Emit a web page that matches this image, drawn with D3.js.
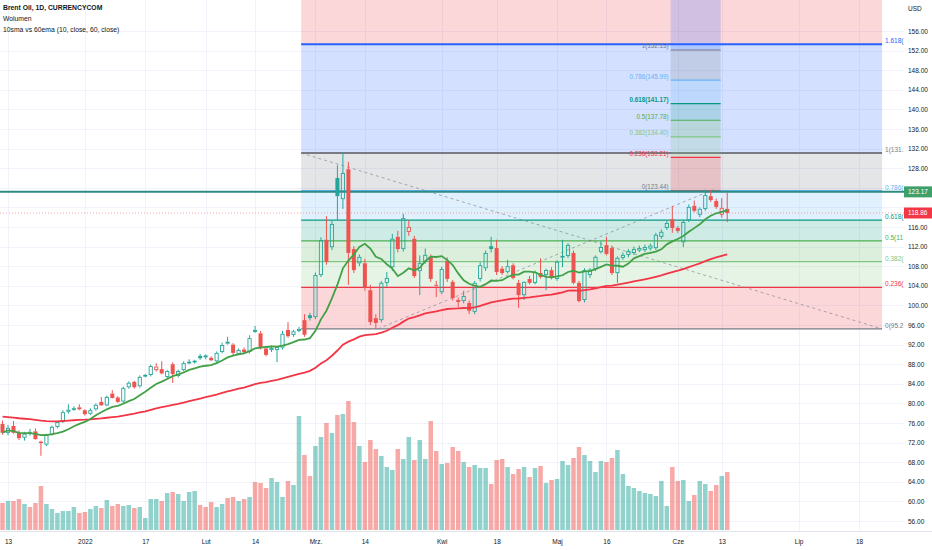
<!DOCTYPE html>
<html>
<head>
<meta charset="utf-8">
<script src="https://d3js.org/d3.v7.min.js"></script>
<style>
  body { margin: 0; background: #fff; }
  svg text { font-family: "Liberation Sans", Arial, sans-serif; }
</style>
</head>
<body>
<div id="chart-area"></div>
<script>
// Brent Oil, 1D, daily bars from 10 Dec 2021 to 14 Jun 2022 (bar index 0..132)
const opens = [
  75.8, 74.0, 75.4, 74.0, 73.0, 74.2, 74.3, 72.2, 71.6, 73.6,
  75.2, 76.2, 78.3, 78.7, 79.2, 78.6, 77.9, 78.8, 80.3, 79.6,
  82.0, 81.2, 80.4, 83.3, 84.4, 83.5, 85.5, 85.8, 86.8, 87.0,
  85.4, 88.0, 85.6, 86.8, 88.3, 88.4, 89.7, 89.8, 89.3, 88.6,
  90.5, 92.6, 92.0, 90.1, 91.0, 90.5, 95.0, 94.3, 91.2, 90.9,
  90.9, 91.4, 95.0, 94.0, 94.8, 97.0, 98.0, 97.6, 106.2, 113.4,
  111.9, 126.0, 121.7, 127.8, 111.5, 108.6, 108.6, 103.1, 97.4, 97.0,
  104.6, 107.8, 114.0, 111.5, 115.0, 113.6, 107.0, 108.9, 109.9, 104.2,
  102.7, 109.1, 104.8, 101.1, 100.9, 100.5, 98.7, 105.4, 107.6, 112.1,
  111.7, 107.5, 106.8, 108.2, 104.6, 102.1, 105.4, 104.6, 106.6, 106.2,
  107.2, 105.4, 109.8, 110.1, 110.7, 104.6, 101.1, 106.2, 107.4, 110.9,
  112.3, 111.7, 106.6, 109.7, 110.3, 110.7, 111.2, 111.3, 111.6, 111.7,
  114.0, 115.8, 117.6, 115.8, 112.9, 117.4, 120.3, 118.5, 119.7, 122.3,
  121.3, 118.5, 119.7
];
const highs = [
  76.5, 75.6, 76.4, 74.5, 74.2, 74.8, 74.9, 72.4, 73.8, 75.5,
  76.4, 78.6, 79.8, 79.4, 79.8, 78.8, 79.0, 80.0, 81.3, 81.6,
  82.7, 81.5, 83.4, 84.5, 84.6, 85.7, 86.0, 87.9, 88.2, 88.6,
  86.8, 88.4, 86.9, 88.6, 89.0, 88.9, 90.1, 90.0, 89.6, 90.6,
  92.4, 93.6, 92.3, 91.2, 91.4, 93.9, 95.8, 94.8, 91.5, 91.8,
  91.6, 94.8, 96.6, 95.0, 95.6, 98.2, 98.5, 106.7, 113.9, 118.2,
  117.2, 128.6, 131.1, 129.3, 112.1, 110.4, 109.5, 104.2, 98.2, 105.0,
  106.8, 114.6, 115.2, 118.7, 117.4, 114.2, 110.2, 111.6, 110.4, 105.0,
  107.9, 109.8, 105.2, 101.6, 103.0, 101.0, 105.0, 108.8, 111.2, 114.0,
  113.4, 108.0, 109.3, 108.6, 105.2, 104.9, 106.0, 107.1, 109.6, 107.5,
  107.8, 109.2, 113.4, 112.7, 111.2, 105.0, 107.6, 107.6, 110.2, 113.1,
  114.0, 112.2, 110.0, 110.8, 111.5, 112.0, 112.2, 112.4, 112.6, 114.8,
  115.5, 117.3, 120.3, 116.2, 117.4, 120.6, 121.4, 120.0, 123.6, 123.5,
  121.8, 121.9, 123.0
];
const lows = [
  73.6, 73.5, 73.8, 72.5, 72.4, 73.4, 72.6, 69.3, 71.3, 73.4,
  74.9, 76.0, 77.9, 78.5, 78.6, 77.5, 77.6, 78.5, 79.5, 79.4,
  81.0, 80.1, 80.0, 83.0, 83.0, 83.2, 85.3, 85.5, 86.5, 85.9,
  85.1, 84.2, 85.3, 86.5, 88.0, 88.1, 88.9, 89.0, 88.6, 88.3,
  90.2, 92.0, 89.9, 89.9, 90.1, 90.2, 94.4, 91.0, 89.6, 90.5,
  88.4, 91.0, 93.4, 93.6, 94.5, 93.6, 96.9, 97.2, 105.8, 108.3,
  111.3, 117.4, 119.7, 104.2, 106.6, 108.0, 103.0, 96.0, 95.21, 96.5,
  103.8, 107.0, 110.8, 111.0, 114.2, 105.6, 102.1, 108.5, 104.8, 101.7,
  102.3, 104.8, 101.0, 99.6, 100.4, 98.2, 98.2, 104.9, 107.0, 110.8,
  106.2, 106.2, 106.5, 105.3, 99.5, 101.1, 104.3, 104.3, 105.5, 103.1,
  105.3, 105.0, 107.8, 109.7, 104.3, 100.6, 100.6, 105.6, 107.0, 110.6,
  110.2, 106.2, 104.6, 109.3, 109.8, 110.3, 110.9, 110.9, 111.2, 111.3,
  113.6, 115.4, 114.8, 114.8, 111.9, 117.0, 119.0, 118.0, 119.3, 121.1,
  119.7, 117.9, 117.0
];
const closes = [
  74.0, 75.0, 74.0, 72.9, 73.8, 74.0, 72.7, 71.9, 73.6, 75.2,
  76.2, 78.2, 78.7, 79.0, 78.8, 77.8, 78.6, 79.7, 79.6, 81.3,
  81.1, 80.3, 83.1, 84.2, 83.3, 85.4, 85.8, 87.6, 87.5, 86.1,
  86.6, 86.0, 86.6, 88.2, 88.5, 88.7, 89.2, 89.4, 88.8, 90.3,
  91.9, 92.2, 90.3, 90.9, 90.4, 93.3, 94.6, 91.3, 89.9, 91.3,
  91.5, 94.2, 93.7, 94.7, 95.2, 94.0, 97.4, 106.2, 113.3, 108.9,
  116.6, 122.3, 127.0, 110.7, 107.2, 109.9, 103.6, 96.6, 96.4, 104.6,
  105.6, 113.6, 111.5, 117.8, 116.0, 106.0, 108.6, 110.3, 105.4, 104.0,
  107.4, 105.4, 101.5, 100.7, 101.9, 98.9, 104.6, 108.2, 110.7, 111.5,
  106.8, 106.6, 108.0, 105.6, 102.1, 104.8, 104.6, 106.8, 105.8, 107.2,
  105.6, 108.9, 110.1, 112.3, 104.6, 100.9, 107.2, 107.3, 109.9, 111.9,
  110.5, 106.6, 109.7, 110.3, 111.1, 111.5, 111.7, 111.9, 112.2, 114.4,
  115.0, 116.8, 115.8, 115.2, 117.0, 120.1, 119.3, 119.7, 122.5, 121.5,
  120.1, 119.9, 118.86
];
// Wolumen (thousands)
const volumes = [
  27, 29, 29, 31, 26, 23, 27, 44, 26, 21,
  17, 19, 19, 23, 17, 18, 21, 24, 22, 30,
  24, 26, 24, 25, 22, 23, 12, 31, 31, 29,
  37, 38, 36, 29, 38, 39, 25, 23, 28, 23,
  26, 32, 33, 29, 31, 33, 48, 47, 42, 52,
  48, 33, 49, 45, 114, 75, 54, 84, 93, 107,
  97, 115, 116, 129, 108, 84, 68, 90, 81, 74,
  63, 60, 81, 71, 93, 70, 90, 71, 109, 79,
  66, 67, 83, 79, 68, 63, 65, 62, 62, 46,
  70, 71, 63, 56, 61, 63, 53, 62, 64, 47,
  50, 51, 69, 65, 72, 83, 75, 69, 58, 69,
  68, 72, 80, 56, 44, 42, 39, 37, 36, 34,
  49, 24, 63, 49, 50, 29, 35, 49, 46, 39,
  45, 54, 58
];

const tickIdx = [1, 15, 26, 37, 46, 57, 66, 80, 90, 101, 110, 123, 131, 145, 156];
const tickText = ['13', '2022', '17', 'Lut', '14', 'Mrz.', '14', 'Kwi', '18', 'Maj', '16', 'Cze', '13', 'Lip', '18'];
const priceTicks = [56, 60, 64, 68, 72, 76, 80, 84, 88, 92, 96, 100, 104, 108, 112, 116, 120, 124, 128, 132, 136, 140, 144, 148, 152, 156];

const ema60Start = 77.4;   // 60ema value at the left edge
const hLinePrice = 123.17;

// fib retracement drawn from 131.1 down to 95.21
const fibLevels = [0, 0.236, 0.382, 0.5, 0.618, 0.786, 1, 1.618, 2.618];
const fibLow = 95.21, fibHigh = 131.1;
const fibFrom = 54.4, fibTo = 160.2;
// trend based fib extension
const extLevels = [0, 0.236, 0.382, 0.5, 0.618, 0.786, 1, 1.618];
const extBase = 123.44, extRange = 28.69;
const extFrom = 121.7, extTo = 130.8;
const extTrend = [[68.4, 95.21], [129.4, 123.6]];

const levelColors = ['#787b86', '#f23645', '#81c784', '#4caf50', '#089981', '#64b5f6', '#787b86', '#2962ff', '#f23645'];

window.addEventListener('DOMContentLoaded', () => {

    const W = 932, H = 550;
    const paneW = 904, paneH = 531;
    const up = '#26a69a', down = '#ef5350';

    const x = d3.scaleLinear().domain([0, 156]).range([2.5, 859]);
    const y = d3.scaleLinear().domain([54.16, 162.33]).range([530, 0]);
    const yVol = d3.scaleLinear().domain([0, 129]).range([530, 401]);

    const svg = d3.select('#chart-area')
        .append('svg')
        .attr('width', W)
        .attr('height', H);

    svg.append('defs').append('clipPath')
        .attr('id', 'pane-clip')
        .append('rect')
        .attr('width', paneW)
        .attr('height', paneH);

    const pane = svg.append('g').attr('clip-path', 'url(#pane-clip)');

    // grid
    pane.append('g').selectAll('line')
        .data(priceTicks)
        .join('line')
        .attr('x1', 0).attr('x2', paneW)
        .attr('y1', d => Math.round(y(d)) + 0.5).attr('y2', d => Math.round(y(d)) + 0.5)
        .attr('stroke', '#f0f3fa');
    pane.append('g').selectAll('line')
        .data(tickIdx)
        .join('line')
        .attr('x1', d => Math.round(x(d)) + 0.5).attr('x2', d => Math.round(x(d)) + 0.5)
        .attr('y1', 0).attr('y2', paneH)
        .attr('stroke', '#f0f3fa');

    // volume
    pane.append('g').selectAll('rect')
        .data(volumes)
        .join('rect')
        .attr('x', (d, i) => x(i) - 2.25)
        .attr('width', 4.5)
        .attr('y', d => yVol(d))
        .attr('height', d => yVol(0) - yVol(d))
        .attr('fill', (d, i) => closes[i] >= opens[i] ? up : down)
        .attr('opacity', 0.5);

    // fib retracement zones
    const fibPrice = l => fibLow + l * (fibHigh - fibLow);
    const fx0 = x(fibFrom), fx1 = x(fibTo);
    const fibG = pane.append('g');
    fibLevels.slice(1).forEach((l, k) => {
        const top = y(fibPrice(l)), bot = y(fibPrice(fibLevels[k]));
        fibG.append('rect')
            .attr('x', fx0).attr('width', fx1 - fx0)
            .attr('y', top).attr('height', bot - top)
            .attr('fill', levelColors[k + 1]).attr('opacity', 0.2);
    });
    fibLevels.forEach((l, k) => {
        const yy = y(fibPrice(l));
        fibG.append('line')
            .attr('x1', fx0).attr('x2', fx1)
            .attr('y1', yy).attr('y2', yy)
            .attr('stroke', levelColors[k])
            .attr('stroke-width', (l === 1 || l === 1.618) ? 2 : 1.3);
        if (yy < 10) return;
        // label runs into the price scale: keep only the part left of it
        const t = fibG.append('text')
            .attr('x', fx1 + 3).attr('y', yy - 1)
            .attr('font-size', 6.5)
            .attr('fill', levelColors[k]);
        let s = `${l}(${fibPrice(l).toFixed(2)})`;
        t.text(s);
        while (s.length && fx1 + 3 + t.node().getComputedTextLength() > paneW) {
            s = s.slice(0, -1);
            t.text(s);
        }
    });
    fibG.append('line')
        .attr('x1', fx0).attr('y1', y(fibHigh))
        .attr('x2', fx1).attr('y2', y(fibLow))
        .attr('stroke', '#787b86').attr('stroke-opacity', 0.6)
        .attr('stroke-dasharray', '3,3');

    // trend based fib extension
    const extPrice = l => extBase + l * extRange;
    const ex0 = x(extFrom), ex1 = x(extTo);
    const extG = pane.append('g');
    extLevels.slice(1).forEach((l, k) => {
        const top = y(extPrice(l)), bot = y(extPrice(extLevels[k]));
        extG.append('rect')
            .attr('x', ex0).attr('width', ex1 - ex0)
            .attr('y', top).attr('height', bot - top)
            .attr('fill', levelColors[k + 1]).attr('opacity', 0.2);
    });
    extLevels.forEach((l, k) => {
        const yy = y(extPrice(l));
        extG.append('line')
            .attr('x1', ex0).attr('x2', ex1)
            .attr('y1', yy).attr('y2', yy)
            .attr('stroke', levelColors[k])
            .attr('stroke-width', 1.2);
        if (l <= 1) {
            extG.append('text')
                .attr('x', ex0 - 2).attr('y', yy - 1.5)
                .attr('text-anchor', 'end')
                .attr('font-size', 6.3)
                .attr('font-weight', l === 0.618 ? 700 : 400)
                .attr('fill', levelColors[k])
                .text(`${l}(${extPrice(l).toFixed(2)})`);
        }
    });
    extG.append('line')
        .attr('x1', x(extTrend[0][0])).attr('y1', y(extTrend[0][1]))
        .attr('x2', x(extTrend[1][0])).attr('y2', y(extTrend[1][1]))
        .attr('stroke', '#787b86').attr('stroke-opacity', 0.6)
        .attr('stroke-dasharray', '3,3');

    // horizontal line + last price line
    pane.append('line')
        .attr('x1', 0).attr('x2', paneW)
        .attr('y1', y(hLinePrice)).attr('y2', y(hLinePrice))
        .attr('stroke', '#2e8a84').attr('stroke-width', 2);
    const last = closes[closes.length - 1];
    pane.append('line')
        .attr('x1', 0).attr('x2', paneW)
        .attr('y1', y(last)).attr('y2', y(last))
        .attr('stroke', down).attr('stroke-opacity', 0.5)
        .attr('stroke-dasharray', '1,2');

    // hollow candles
    const bars = closes.map((c, i) => ({
        i, o: opens[i], h: highs[i], l: lows[i], c,
        col: c >= (i ? closes[i - 1] : opens[i]) ? up : down,
        hollow: c > opens[i]
    }));
    const cg = pane.append('g');
    bars.forEach(b => {
        const cx = x(b.i);
        const top = y(Math.max(b.o, b.c)), bot = y(Math.min(b.o, b.c));
        cg.append('line')
            .attr('x1', cx).attr('x2', cx)
            .attr('y1', y(b.h)).attr('y2', top)
            .attr('stroke', b.col);
        cg.append('line')
            .attr('x1', cx).attr('x2', cx)
            .attr('y1', bot).attr('y2', y(b.l))
            .attr('stroke', b.col);
        if (b.hollow) {
            cg.append('rect')
                .attr('x', cx - 1.6).attr('width', 3.2)
                .attr('y', top + 0.4).attr('height', Math.max(0.8, bot - top - 0.8))
                .attr('fill', 'none').attr('stroke', b.col).attr('stroke-width', 0.9);
        } else {
            cg.append('rect')
                .attr('x', cx - 2).attr('width', 4)
                .attr('y', top).attr('height', Math.max(1, bot - top))
                .attr('fill', b.col);
        }
    });

    // 10sma vs 60ema
    const sma10 = closes.map((c, i) => d3.mean(closes.slice(Math.max(0, i - 9), i + 1)));
    let e = ema60Start;
    const ema60 = closes.map(c => (e = e + (2 / 61) * (c - e)));
    const line = d3.line().x((d, i) => x(i)).y(d => y(d));
    pane.append('path').datum(ema60)
        .attr('d', line).attr('fill', 'none')
        .attr('stroke', '#f23645').attr('stroke-width', 1.8);
    pane.append('path').datum(sma10)
        .attr('d', line).attr('fill', 'none')
        .attr('stroke', '#43a047').attr('stroke-width', 1.8);

    // price scale, ticks hidden behind the price tags are left out
    const last2 = [hLinePrice, last];
    const shown = priceTicks.filter(p => last2.every(q => Math.abs(y(p) - y(q)) > 8));
    const yAxis = svg.append('g')
        .attr('transform', `translate(${paneW},0)`)
        .call(d3.axisRight(y).tickValues(shown).tickSize(0).tickPadding(4).tickFormat(d3.format('.2f')));
    yAxis.select('.domain').remove();
    yAxis.selectAll('text').attr('font-size', 6.5).attr('fill', '#131722').attr('font-family', '"Liberation Sans", Arial, sans-serif');
    svg.append('text').attr('x', 908).attr('y', 11).attr('font-size', 6.5).attr('fill', '#131722').text('USD');

    const priceTag = (p, fill) => {
        svg.append('rect').attr('x', paneW).attr('y', y(p) - 5.5).attr('width', W - paneW).attr('height', 11).attr('fill', fill);
        svg.append('text').attr('x', 908).attr('y', y(p) + 2.3).attr('font-size', 6.5).attr('fill', '#fff').text(p.toFixed(2));
    };
    priceTag(hLinePrice, '#3f9f68');
    priceTag(last, '#f23645');

    // time scale
    svg.append('line').attr('x1', 0).attr('x2', W).attr('y1', paneH + 0.5).attr('y2', paneH + 0.5).attr('stroke', '#e0e3eb');
    const xAxis = svg.append('g')
        .attr('transform', `translate(0,${paneH})`)
        .call(d3.axisBottom(x).tickValues(tickIdx).tickSize(0).tickPadding(8).tickFormat((d, i) => tickText[i]));
    xAxis.select('.domain').remove();
    xAxis.selectAll('text').attr('font-size', 6.5).attr('fill', '#131722').attr('font-family', '"Liberation Sans", Arial, sans-serif');

    // legend
    const legend = [['Brent Oil, 1D, CURRENCYCOM', 600], ['Wolumen', 400], ['10sma vs 60ema (10, close, 60, close)', 400]];
    svg.append('g').selectAll('text')
        .data(legend)
        .join('text')
        .attr('x', 3).attr('y', (d, i) => 10 + i * 10.8)
        .attr('font-size', 6.8)
        .attr('font-weight', d => d[1])
        .attr('fill', '#131722')
        .text(d => d[0]);

}); // End of document ready.
</script>
</body>
</html>
